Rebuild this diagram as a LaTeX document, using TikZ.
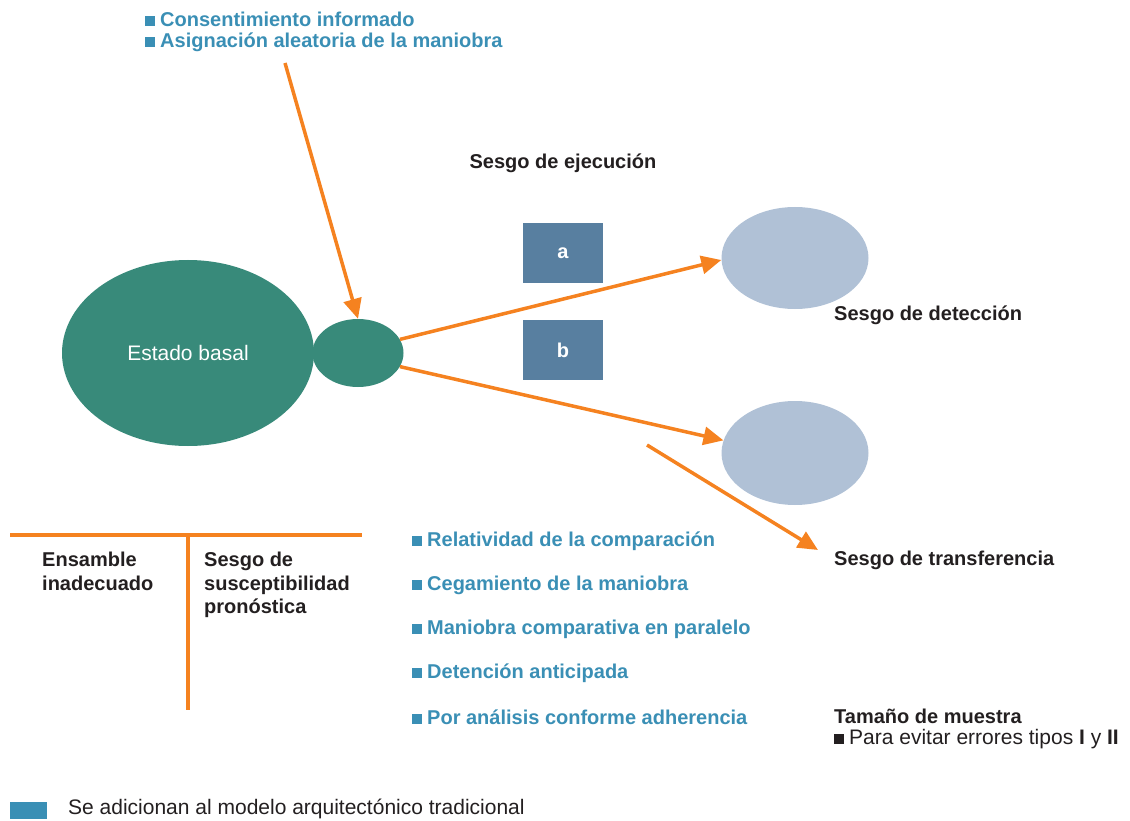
\documentclass[tikz,border=0pt]{standalone}
\usepackage{fontspec}
\setmainfont{Liberation Sans}
\usepackage{xcolor}
\usetikzlibrary{
    arrows.meta,
    shapes.geometric,
    positioning
}
\definecolor{verdebasal}{HTML}{388A7A}
\definecolor{grisazul}{HTML}{B0C1D6}
\definecolor{cajaazul}{HTML}{587FA0}
\definecolor{naranja}{HTML}{F58220}
\definecolor{azultexto}{HTML}{3A8FB5}
\definecolor{negrotexto}{HTML}{231F20}
\newcommand{\vineta}[1][azultexto]{\textcolor{#1}{\rule{10pt}{10pt}}\hspace{5pt}}

\begin{document}
\begin{tikzpicture}[x=1pt, y=-1pt,
    flecha/.style={draw=naranja, line width=3.5pt, -{Triangle[length=20pt, width=18pt]}},
    linea/.style={draw=naranja, line width=3.5pt},
    elipse/.style={ellipse, inner sep=0pt, draw=none},
    caja/.style={fill=cajaazul, minimum width=80pt, minimum height=60pt, inner sep=0pt,
        text=white, font=\fontsize{20}{24}\selectfont\bfseries},
    azul/.style={anchor=west, inner sep=0pt, text=azultexto, font=\fontsize{20}{24}\selectfont\bfseries},
    titulo/.style={anchor=west, inner sep=0pt, text=negrotexto, font=\fontsize{20}{24}\selectfont\bfseries},
    bloque/.style={anchor=north west, inner sep=0pt, align=left, text=negrotexto,
        font=\fontsize{20}{23.5}\selectfont\bfseries}
]
\useasboundingbox (0, 0) rectangle (1130, 821);

% ovalos
\node[elipse, fill=verdebasal, minimum width=252pt, minimum height=186pt, text=white,
    font=\fontsize{21}{24}\selectfont] (basal) at (188, 353) {Estado basal};
\node[elipse, fill=verdebasal, minimum width=91pt, minimum height=68pt] (inicio) at (358, 353) {};
\node[elipse, fill=grisazul, minimum width=147pt, minimum height=102pt] (deteccion) at (795, 258) {};
\node[elipse, fill=grisazul, minimum width=147pt, minimum height=104pt] (transfer) at (795, 453) {};

% cajas a y b
\node[caja] (caja a) at (563, 253) {a};
\node[caja] (caja b) at (563, 350) {b};

% textos
\node[azul] (consent) at (145, 19) {\vineta Consentimiento informado};
\node[azul] (asigna) at (145, 42) {\vineta Asignaci\'on aleatoria de la maniobra};
\node[titulo, anchor=center] (ejecucion) at (563, 163) {Sesgo de ejecuci\'on};
\node[titulo] (t deteccion) at (834, 315) {Sesgo de detecci\'on};
\node[titulo] (t transfer) at (834, 560) {Sesgo de transferencia};

\node[azul] (relat) at (412, 541) {\vineta Relatividad de la comparaci\'on};
\node[azul] (cegam) at (412, 585) {\vineta Cegamiento de la maniobra};
\node[azul] (paral) at (412, 629) {\vineta Maniobra comparativa en paralelo};
\node[azul] (deten) at (412, 673) {\vineta Detenci\'on anticipada};
\node[azul] (adher) at (412, 717) {\vineta Por an\'alisis conforme adherencia};

\node[bloque] (ensamble) at (42, 552) {Ensamble\\inadecuado};
\node[bloque] (suscep) at (204, 552) {Sesgo de\\susceptibilidad\\pron\'ostica};

\node[titulo] (muestra) at (834, 716) {Tama\~no de muestra};
\node[anchor=west, inner sep=0pt, text=negrotexto, font=\fontsize{21}{24}\selectfont]
    (errores) at (834, 739) {\vineta[negrotexto]Para evitar errores tipos \textbf{I} y \textbf{II}};

% leyenda
\node[fill=azultexto, minimum width=37pt, minimum height=17pt, inner sep=0pt] (muestra azul) at (28.5, 810.5) {};
\node[anchor=west, inner sep=0pt, text=negrotexto, font=\fontsize{21}{24}\selectfont]
    (leyenda) at (68, 809) {Se adicionan al modelo arquitect\'onico tradicional};

% flechas
\coordinate (origen) at (285, 63);
\coordinate (cruce) at (647, 445);
\coordinate (fin cruce) at (818, 550);
\draw[flecha] (origen) -- (inicio.north);
\draw[flecha] (inicio.18) -- (deteccion.west |- 0, 260);
\draw[flecha] (inicio.-18) -- (transfer.170);
\draw[flecha] (cruce) -- (fin cruce);

% T
\coordinate (t izq) at (10, 535);
\coordinate (t der) at (362, 535);
\coordinate (t arriba) at (188, 535);
\coordinate (t abajo) at (188, 710);
\draw[linea] (t izq) -- (t der);
\draw[linea] (t arriba) -- (t abajo);
\end{tikzpicture}
\end{document}
